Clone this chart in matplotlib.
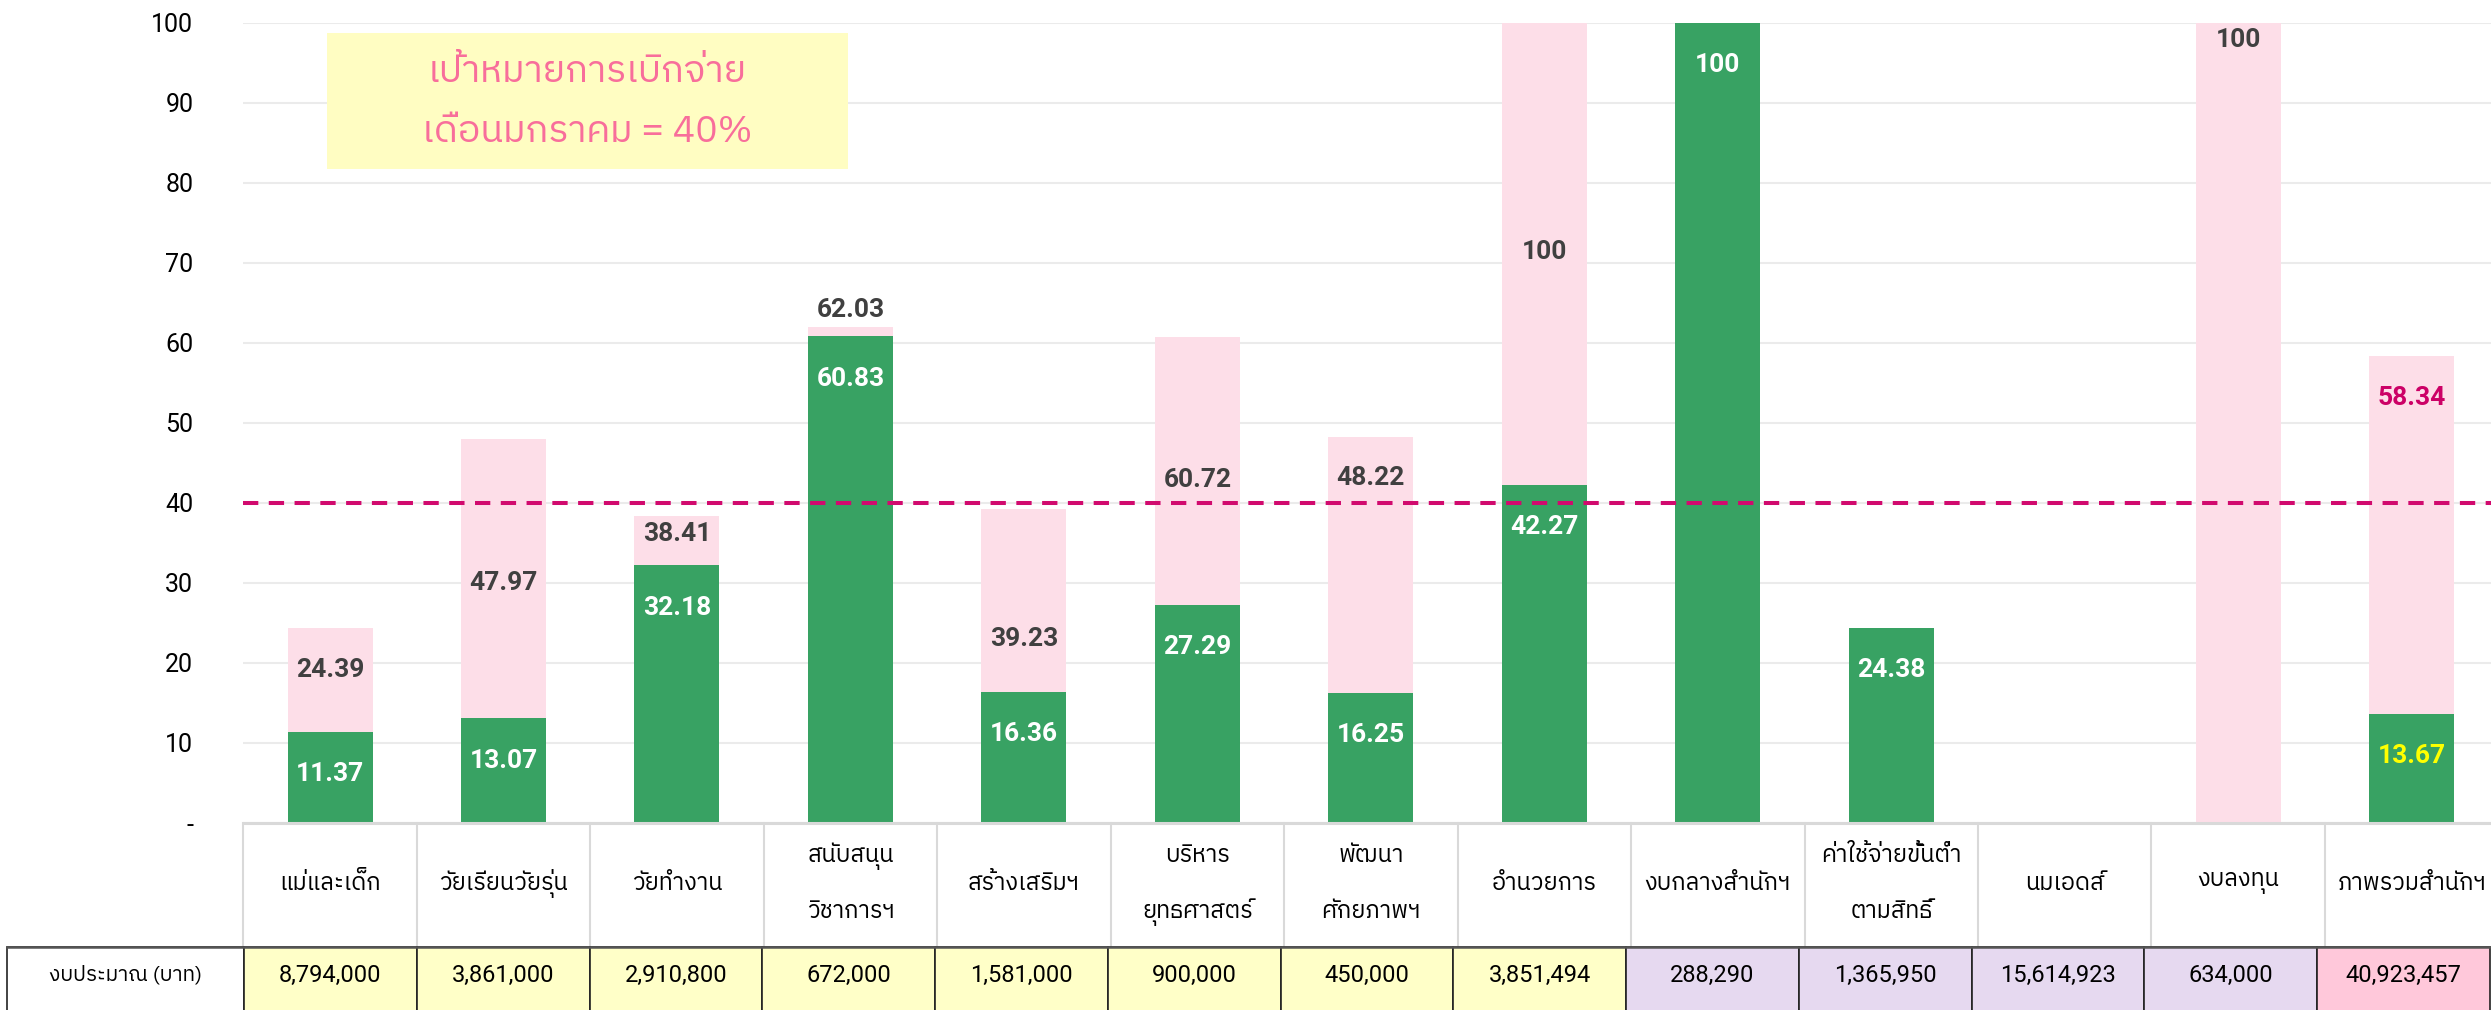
import numpy as np
import matplotlib
matplotlib.use("Agg")
import matplotlib.pyplot as plt
from matplotlib import font_manager
from matplotlib.ft2font import FT2Font
from matplotlib.patches import Rectangle
import matplotlib.transforms as mtransforms

# ---------------- data ----------------
categories = ["แม่และเด็ก", "วัยเรียนวัยรุ่น", "วัยทำงาน", "สนับสนุน\nวิชาการฯ",
              "สร้างเสริมฯ", "บริหาร\nยุทธศาสตร์", "พัฒนา\nศักยภาพฯ", "อำนวยการ",
              "งบกลางสำนักฯ", "ค่าใช้จ่ายขั้นต่ำ\nตามสิทธิ์", "นมเอดส์", "งบลงทุน",
              "ภาพรวมสำนักฯ"]
pink_values = [24.39, 47.97, 38.41, 62.03, 39.23, 60.72, 48.22, 100, np.nan,
               np.nan, np.nan, 100, 58.34]
green_values = [11.37, 13.07, 32.18, 60.83, 16.36, 27.29, 16.25, 42.27, 100,
                24.38, np.nan, np.nan, 13.67]
budgets = [8794000, 3861000, 2910800, 672000, 1581000, 900000, 450000, 3851494,
           288290, 1365950, 15614923, 634000, 40923457]
budget_header = "งบประมาณ (บาท)"
target_value = 40
target_text = ["เป้าหมายการเบิกจ่าย", "เดือนมกราคม = 40%"]
yticks = list(range(0, 101, 10))
ytick_labels = ["-"] + [str(v) for v in yticks[1:]]
# label heights (data units) of the pink-bar value labels, as placed in the original
pink_label_y = [19.1, 30.0, 36.1, 64.1, 23.0, 42.9, 43.1, 71.4, np.nan,
                np.nan, np.nan, 97.9, 53.1]

# ---------------- styles ----------------
GREEN = "#38A263"
PINK = "#FDDEE8"
TARGET = "#D10A6E"
pink_label_colors = ["#404040"] * 12 + ["#CC0066"]
green_label_colors = ["white"] * 12 + ["#FFFF00"]
budget_colors = ["#FFFFC8"] * 8 + ["#E6D9F0"] * 4 + ["#FFC8DA"]

# ---------------- fonts ----------------
def find_thai_font():
    cands = {}
    for f in font_manager.fontManager.ttflist:
        if f.name in cands:
            continue
        try:
            cmap = FT2Font(f.fname).get_charmap()
        except Exception:
            continue
        if 0x0E01 in cmap and 0x0E32 in cmap and 0x0E48 in cmap:
            score = 0
            if "Looped" in f.name:
                score += 2
            if "Serif" in f.name:
                score += 4
            if "Thai" not in f.name:
                score += 1
            cands[f.name] = score
    if not cands:
        return None
    return sorted(cands.items(), key=lambda kv: kv[1])[0][0]

thai = find_thai_font()
LATIN = ["Roboto", "DejaVu Sans"]
THAI = ([thai] if thai else []) + LATIN
plt.rcParams["font.family"] = THAI

DPI = 100
W, H = 2491, 1010
fig = plt.figure(figsize=(W / DPI, H / DPI), dpi=DPI)

# main axes geometry (pixels)
col_w = 173.47
ax_left_px = 243.3
ax_top_px = 22.7
ax_bottom_px = 823.0
ax_h_px = ax_bottom_px - ax_top_px
ncat = len(categories)
ax = fig.add_axes([ax_left_px / W, 1 - ax_bottom_px / H,
                   ncat * col_w / W, ax_h_px / H])
ax.set_xlim(-0.5, ncat - 0.5)
ax.set_ylim(0, 100)
for s in ax.spines.values():
    s.set_visible(False)

x = np.arange(ncat)
ax.set_axisbelow(True)
ax.yaxis.grid(True, color="#EBEBEB", linewidth=1.5)
ax.set_yticks(yticks)
ax.set_yticklabels(ytick_labels, family=LATIN, fontsize=18, color="black")
ax.tick_params(axis="y", length=0, pad=36)
ax.tick_params(axis="x", length=0, labelbottom=False)

ax.bar(x, pink_values, width=0.49, color=PINK, zorder=2)
ax.bar(x, green_values, width=0.49, color=GREEN, zorder=3)

ax.axhline(target_value, color=TARGET, linewidth=2.9, linestyle=(0, (3.8, 2.6)), zorder=4)

# value labels
for i in range(ncat):
    pv = pink_values[i]
    if not np.isnan(pv):
        ax.text(x[i], pink_label_y[i], f"{pv:g}", ha="center", va="center",
                family=LATIN, fontsize=19, fontweight="bold",
                color=pink_label_colors[i], zorder=5)
    gv = green_values[i]
    if not np.isnan(gv):
        ax.annotate(f"{gv:g}", (x[i], gv), xytext=(0, -30.5), textcoords="offset points",
                    ha="center", va="center", family=LATIN, fontsize=19,
                    fontweight="bold", color=green_label_colors[i], zorder=5)

# target note box
ax.add_patch(Rectangle((0.0371, 0.8172), 0.2310, 0.1699, transform=ax.transAxes,
                       facecolor="#FFFDC2", edgecolor="none", zorder=6))
ax.text(0.1526, 0.9390, target_text[0], transform=ax.transAxes, ha="center",
        va="center", fontsize=27, color="#F86E9B", zorder=7)
ax.text(0.1526, 0.8630, target_text[1], transform=ax.transAxes, ha="center",
        va="center", fontsize=27, color="#F86E9B", zorder=7)

# category table below the axes
blend = mtransforms.blended_transform_factory(ax.transData, ax.transAxes)
cat_bottom = -(947.0 - ax_bottom_px) / ax_h_px
for k in range(ncat + 1):
    ax.plot([k - 0.5, k - 0.5], [0, cat_bottom], transform=blend, color="#D9D9D9",
            linewidth=1.5, clip_on=False, zorder=1)
ax.plot([-0.5, ncat - 0.5], [0, 0], transform=blend, color="#D9D9D9",
        linewidth=2.2, clip_on=False, zorder=6, solid_capstyle="butt")
one_line_y = -(883.0 - ax_bottom_px) / ax_h_px
two_line_y = [-(856.0 - ax_bottom_px) / ax_h_px, -(912.0 - ax_bottom_px) / ax_h_px]
for i, c in enumerate(categories):
    parts = c.split("\n")
    ys = [one_line_y] if len(parts) == 1 else two_line_y
    for part, yy in zip(parts, ys):
        ax.text(x[i], yy, part, transform=blend, ha="center", va="center",
                fontsize=17, color="black", clip_on=False)

# budget row
b_left = 244.0
b_w = 172.75
b_top = 946.7
bax = fig.add_axes([b_left / W, 0, ncat * b_w / W, (H - b_top) / H])
bax.set_xlim(-0.5, ncat - 0.5)
bax.set_ylim(0, 1)
bax.axis("off")
head_left = -0.5 - (b_left - 7) / b_w
bax.add_patch(Rectangle((head_left, -1), -0.5 - head_left, 2, facecolor="white",
                        edgecolor="#222222", linewidth=1.2, clip_on=False))
bax.text((head_left - 0.5) / 2, 0.55, budget_header, ha="center", va="center",
         fontsize=15, color="black", clip_on=False)
for i in range(ncat):
    bax.add_patch(Rectangle((i - 0.5, -1), 1, 2, facecolor=budget_colors[i],
                            edgecolor="#222222", linewidth=1.2, clip_on=False))
    bax.text(i, 0.55, f"{budgets[i]:,}", ha="center", va="center", family=LATIN,
             fontsize=17, color="black", clip_on=False)
bax.plot([head_left, ncat - 0.5], [1, 1], color="#555555", linewidth=1.8,
         clip_on=False)

fig.savefig("out.png", dpi=DPI, facecolor="white")
